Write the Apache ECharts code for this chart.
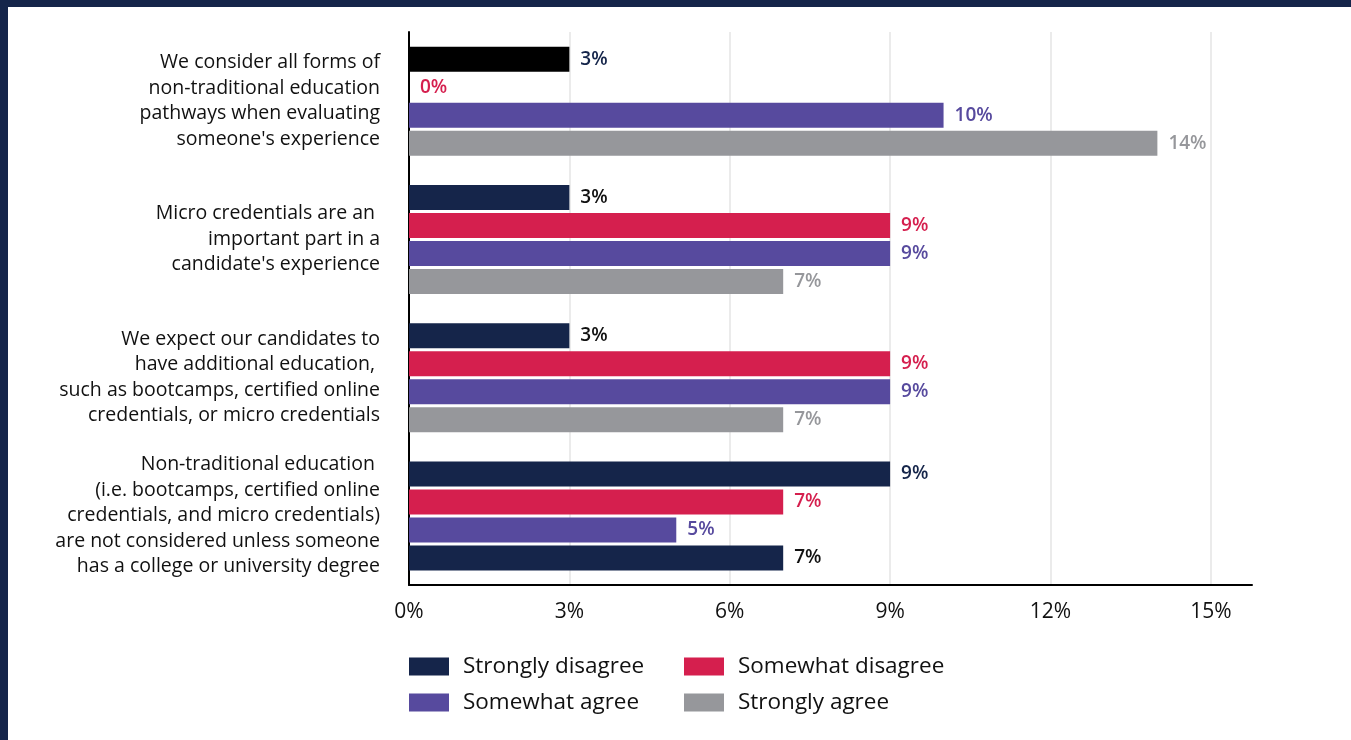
<!DOCTYPE html>
<html>
<head>
<meta charset="utf-8">
<script src="https://cdn.jsdelivr.net/npm/echarts@6/dist/echarts.min.js"></script>
<style>
  html, body { margin: 0; padding: 0; background: #ffffff; }
  #chart { position: absolute; left: 0; top: 0; width: 1351px; height: 740px; }
  .frame-top { position: absolute; left: 0; top: 0; width: 1351px; height: 7px; background: #15254a; }
  .frame-left { position: absolute; left: 0; top: 0; width: 8px; height: 740px; background: #15254a; }
</style>
</head>
<body>
<div id="chart"></div>
<div class="frame-top"></div>
<div class="frame-left"></div>
<script>
// Survey statements (one group of bars each)
const categories = [
  "We consider all forms of\nnon-traditional education\npathways when evaluating\nsomeone's experience",
  "Micro credentials are an \nimportant part in a\ncandidate's experience",
  "We expect our candidates to\nhave additional education, \nsuch as bootcamps, certified online\ncredentials, or micro credentials",
  "Non-traditional education \n(i.e. bootcamps, certified online\ncredentials, and micro credentials)\nare not considered unless someone\nhas a college or university degree"
];

// Response options
const seriesNames = ["Strongly disagree", "Somewhat disagree", "Somewhat agree", "Strongly agree"];

// Share of respondents (%) per statement
const stronglyDisagree = [3, 3, 3, 9];
const somewhatDisagree = [0, 9, 9, 7];
const somewhatAgree = [10, 9, 9, 5];
const stronglyAgree = [14, 7, 7, 7];

// Value axis tick labels (%)
const xTicks = [0, 3, 6, 9, 12, 15];

const FONT = '"Open Sans", Roboto, sans-serif';
const NAVY = '#15254a';
const RED = '#d51f4e';
const PURPLE = '#574a9e';
const GRAY = '#96979b';
const INK = '#111111';

const seriesValues = [stronglyDisagree, somewhatDisagree, somewhatAgree, stronglyAgree];
const seriesColors = [NAVY, RED, PURPLE, GRAY];

// Individual bar / label colour exceptions, keyed "series:category"
const barColorOverrides = { '0:0': '#000000', '3:3': NAVY };
const labelColorOverrides = { '0:1': INK, '0:2': INK, '3:3': INK };

const series = seriesNames.map((name, s) => ({
  name: name,
  type: 'bar',
  barWidth: 25,
  barGap: '12%',
  itemStyle: { color: seriesColors[s] },
  label: {
    show: true,
    position: 'right',
    distance: 11,
    fontSize: 19,
    fontWeight: 600,
    fontFamily: FONT,
    color: seriesColors[s],
    formatter: p => p.value + '%'
  },
  data: seriesValues[s].map((v, c) => {
    const key = s + ':' + c;
    const item = { value: v };
    if (barColorOverrides[key]) item.itemStyle = { color: barColorOverrides[key] };
    if (labelColorOverrides[key]) item.label = { color: labelColorOverrides[key] };
    return item;
  })
}));

const legendBase = {
  orient: 'vertical',
  top: 655,
  padding: 0,
  icon: 'rect',
  itemWidth: 40,
  itemHeight: 18,
  itemGap: 13,
  textStyle: { fontSize: 22.5, lineHeight: 18, color: INK, fontFamily: FONT, padding: [0, 0, 0, 9] }
};

const chart = echarts.init(document.getElementById('chart'), null, { renderer: 'canvas' });
chart.setOption({
  animation: false,
  backgroundColor: 'transparent',
  textStyle: { fontFamily: FONT },
  grid: { left: 409, right: 99, top: 32, bottom: 155, containLabel: false },
  legend: [
    Object.assign({}, legendBase, { left: 409, data: [seriesNames[0], seriesNames[2]] }),
    Object.assign({}, legendBase, { left: 684, data: [seriesNames[1], seriesNames[3]] })
  ],
  xAxis: {
    type: 'value',
    min: 0,
    max: 15.77,
    interval: 3,
    axisLine: { show: true, onZero: false, lineStyle: { color: '#000000', width: 2 } },
    axisTick: { show: false },
    splitLine: { show: true, showMinLine: true, showMaxLine: false, lineStyle: { color: '#ebebeb', width: 2 } },
    axisLabel: {
      fontSize: 21,
      color: INK,
      fontFamily: FONT,
      margin: 17,
      showMaxLabel: false,
      formatter: v => (xTicks.indexOf(v) >= 0 ? v + '%' : '')
    }
  },
  yAxis: {
    type: 'category',
    inverse: true,
    data: categories,
    axisLine: { show: true, lineStyle: { color: '#000000', width: 2 } },
    axisTick: { show: false },
    splitLine: { show: false },
    axisLabel: { fontSize: 19.5, lineHeight: 25.5, color: INK, fontFamily: FONT, margin: 29, align: 'right' }
  },
  series: series
});
</script>
</body>
</html>
